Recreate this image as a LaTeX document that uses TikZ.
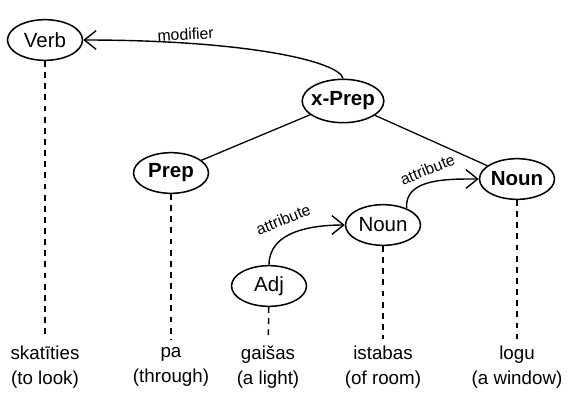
\documentclass[tikz,border=0pt]{standalone}
\usepackage{fontspec}
\setmainfont{Liberation Sans}
\usetikzlibrary{shapes.geometric,arrows.meta}
\tikzset{
  wnode/.style={ellipse,draw,line width=1.3pt,minimum width=2.25cm,minimum height=1.22cm,inner xsep=-6pt,inner ysep=0pt,font=\fontsize{17.5}{20}\selectfont},
  hnode/.style={wnode,font=\fontsize{17.5}{20}\selectfont\bfseries},
  word/.style={align=center,inner sep=1pt,font=\fontsize{16}{21}\selectfont},
  lbl/.style={font=\fontsize{13.5}{15}\selectfont,inner sep=1pt},
  dep/.style={-{Straight Barb[length=10pt,width=16pt,line width=1.2pt]},line width=1.2pt},
  link/.style={line width=1.1pt},
  drop/.style={line width=1.3pt,dash pattern=on 5pt off 4.5pt,shorten >=5pt}
}
\begin{document}
\begin{tikzpicture}[x=0.03cm,y=-0.03cm]
\useasboundingbox (0,0) rectangle (572,392);

          \node [wnode] at (45,40) (verb) {Verb};
             \node [hnode,minimum width=2.45cm,minimum height=1.3cm] at (343,101) (xprep) {x-Prep};
              \node [hnode] at (171,173) (prep) {Prep};
               \node [hnode] at (517,179) (noun b) {Noun};
                \node [wnode] at (383,225) (noun a) {Noun};
                 \node [wnode] at (269,286) (adj) {Adj};
%
             \node [word] at (45,367) (w verb) {skatīties\\(to look)};
             \node [word] at (171,367) (w prep) {pa\\(through)};
             \node [word] at (268,367) (w adj) {gaišas\\(a light)};
             \node [word] at (383,367) (w noun a) {istabas\\(of room)};
             \node [word] at (517,367) (w noun b) {logu\\(a window)};
%
%
\draw[dep] (xprep.north) .. controls (340,62) and (250,40) .. node [lbl,pos=0.77,above=1pt,rotate=3] {modifier} (verb.east);
\path[link] (xprep) edge (prep);
\path[link] (xprep) edge (noun b);
\draw[dep] (adj.north) to[out=90,in=180] node [lbl,pos=0.5,anchor=south,xshift=-7pt,yshift=5pt,rotate=22] {attribute} (noun a.west);
\draw[dep] (noun a.35) to[out=95,in=180] node [lbl,pos=0.5,anchor=south,xshift=0pt,yshift=5pt,rotate=22] {attribute} (noun b.west);
%
\path[drop] (verb) edge (w verb);
\path[drop] (prep) edge (w prep);
\path[drop] (adj) edge (w adj);
\path[drop] (noun a) edge (w noun a);
\path[drop] (noun b) edge (w noun b);

\end{tikzpicture}
\end{document}
